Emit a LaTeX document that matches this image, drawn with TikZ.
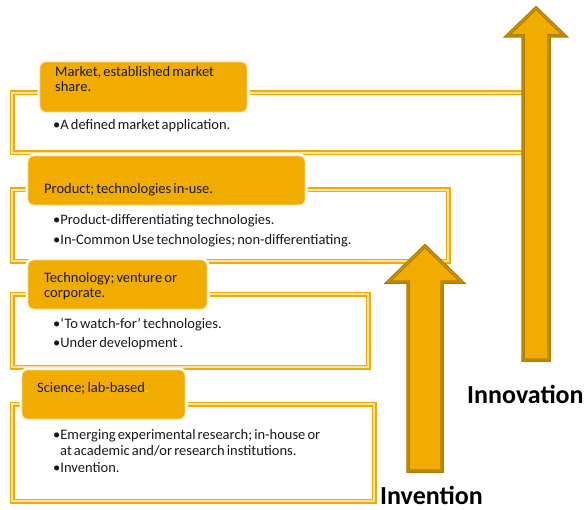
\documentclass[tikz,border=0pt]{standalone}
\usepackage{fontspec}
\setmainfont{Carlito}[WordSpace=0.65]
\definecolor{gold}{HTML}{F0AC00}
\definecolor{goldpale}{HTML}{FCE3A0}
\definecolor{tabedge}{HTML}{FBDC88}
\definecolor{arrowdark}{HTML}{B07E00}
\definecolor{arrowmid}{HTML}{D49A00}
\begin{document}
\begin{tikzpicture}[x=1pt,y=-1pt,
  frame/.style={draw=gold, line width=1.9pt, double=goldpale, double distance=1.2pt},
  tab/.style={rounded corners=6pt, fill=gold, draw=tabedge, line width=0.8pt,
              preaction={draw=white, line width=5pt}},
  bigarrow/.style={fill=gold, draw=arrowdark, line width=1.3pt, double=arrowmid,
              double distance=0.9pt, line join=miter},
  txt/.style={anchor=base west, inner sep=0pt, font=\fontsize{14.5}{16}\selectfont, text=black!90},
  lbl/.style={anchor=base west, inner sep=0pt, text depth=0pt, font=\fontsize{26}{30}\selectfont\bfseries, text=black}]
\useasboundingbox (0,0) rectangle (585,510);

% frames
\draw[frame] (12,93) rectangle (530,153);
\draw[frame] (12,190) rectangle (448,261);
\draw[frame] (12,294) rectangle (368,367);
\draw[frame] (12,404) rectangle (374,501);

% tabs
\draw[tab] (40,62) rectangle (247,112);
\draw[tab] (28,156) rectangle (305,205);
\draw[tab] (28,260) rectangle (207,309);
\draw[tab] (22,370) rectangle (185,419);

% tab texts
\node[txt] (t1a) at (55,77) {Market, established market};
\node[txt] (t1b) at (55,92) {share.};
\node[txt] (t2a) at (44,194) {Product; technologies in-use.};
\node[txt] (t3a) at (44,282) {Technology; venture or};
\node[txt] (t3b) at (44,297) {corporate.};
\node[txt] (t4a) at (37,392) {Science; lab-based\textcolor{goldpale}{.}};

% bullets
\node[txt] (b1a) at (53,130) {•A defined market application.};
\node[txt] (b2a) at (53,225) {•Product-differentiating technologies.};
\node[txt] (b2b) at (53,244) {•In-Common Use technologies; non-differentiating.};
\node[txt] (b3a) at (53,328) {•‘To watch-for’ technologies.};
\node[txt] (b3b) at (53,347) {•Under development .};
\node[txt] (b4a) at (53,439) {•Emerging experimental research; in-house or};
\node[txt] (b4b) at (60,455) {at academic and/or research institutions.};
\node[txt] (b4c) at (53,472) {•Invention.};

% arrows
\draw[bigarrow] (523,360) -- (523,36) -- (507,36) -- (536,8) -- (565,36) -- (549,36) -- (549,360) -- cycle;
\draw[bigarrow] (408,471) -- (408,282) -- (388,282) -- (425,246) -- (462,282) -- (442,282) -- (442,471) -- cycle;

% labels
\node[lbl] (innov) at (467,403) {Innovation};
\node[lbl] (inven) at (380,504) {Invention};
\end{tikzpicture}
\end{document}
